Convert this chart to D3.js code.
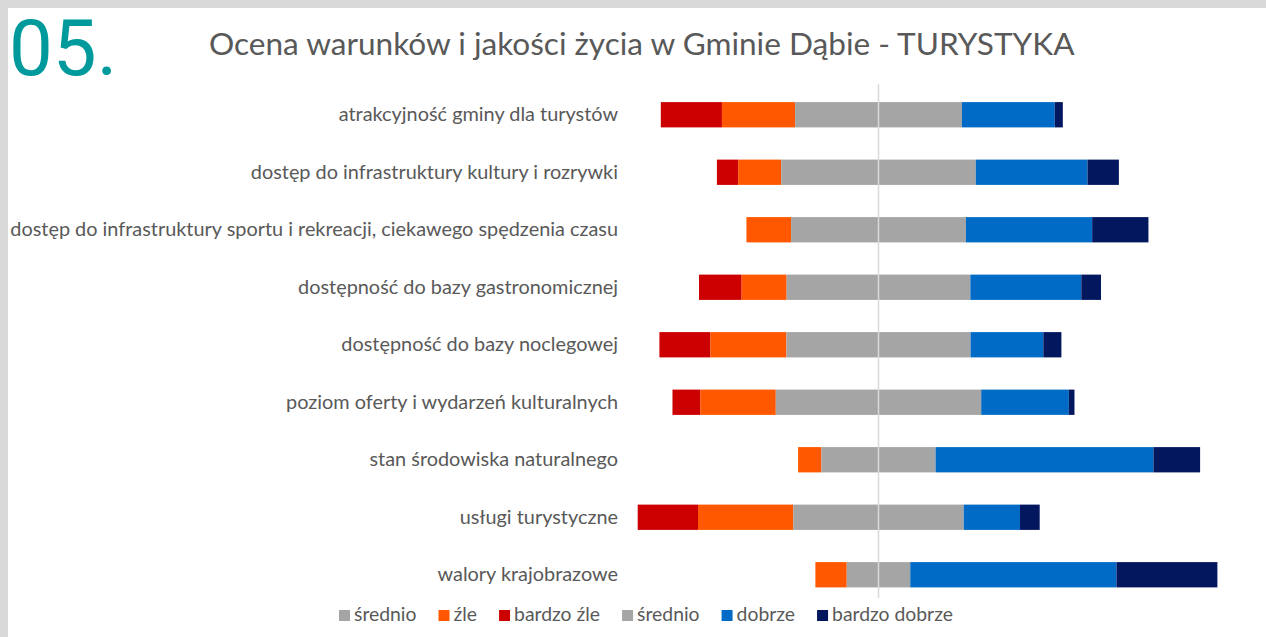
<!DOCTYPE html>
<html><head><meta charset="utf-8">
<script src="https://cdn.jsdelivr.net/npm/d3@7"></script>
<style>html,body{margin:0;padding:0;background:#fff;}</style>
</head><body>
<script>
// ---- data (percent of answers) ----
const categories = [
  "atrakcyjność gminy dla turystów",
  "dostęp do infrastruktury kultury i rozrywki",
  "dostęp do infrastruktury sportu i rekreacji, ciekawego spędzenia czasu",
  "dostępność do bazy gastronomicznej",
  "dostępność do bazy noclegowej",
  "poziom oferty i wydarzeń kulturalnych",
  "stan środowiska naturalnego",
  "usługi turystyczne",
  "walory krajobrazowe"
];
const bardzoZle    = [15.2, 5.3, 0.0, 10.6, 12.7, 6.9, 0.0, 15.0, 0.0];
const zle          = [18.2, 10.7, 11.1, 11.2, 18.9, 18.8, 5.8, 23.7, 7.8];
const srednio      = [41.5, 48.4, 43.5, 45.7, 45.8, 51.1, 28.4, 42.4, 15.8];
const dobrze       = [23.1, 27.8, 31.4, 27.6, 18.1, 21.8, 54.2, 14.0, 51.3];
const bardzoDobrze = [2.0, 7.8, 14.0, 4.9, 4.5, 1.4, 11.6, 4.9, 25.1];
const legendLabels = ["średnio", "źle", "bardzo źle", "średnio", "dobrze", "bardzo dobrze"];
const title = "Ocena warunków i jakości życia w Gminie Dąbie - TURYSTYKA";
const sectionNo = "05.";

const colors = {bz:"#cc0000", z:"#ff5800", s:"#a5a5a5", d:"#006bc6", bd:"#03175f"};
const legendColors = [colors.s, colors.z, colors.bz, colors.s, colors.d, colors.bd];

const W = 1266, H = 637;
const FONT = "Lato, 'Open Sans', sans-serif";
const svg = d3.select("body").append("svg").attr("width", W).attr("height", H)
  .style("display","block");

// frame
svg.append("rect").attr("x",0).attr("y",0).attr("width",W).attr("height",H).attr("fill","#fff");
svg.append("rect").attr("x",0).attr("y",0).attr("width",W).attr("height",8).attr("fill","#d9d9d9");
svg.append("rect").attr("x",0).attr("y",0).attr("width",8).attr("height",H).attr("fill","#d9d9d9");

// section number
const sn = svg.append("text").attr("x", 9).attr("y", 75)
  .attr("font-family","Roboto, sans-serif").attr("font-weight",400)
  .attr("font-size", 78).attr("fill","#00999c").text(sectionNo);

// helper to fit text width
function fit(sel, targetW) {
  const w = sel.node().getComputedTextLength();
  const fs = parseFloat(sel.attr("font-size"));
  sel.attr("font-size", fs * targetW / w);
}

// title
const t = svg.append("text").attr("x", 209).attr("y", 55)
  .attr("font-family", FONT).attr("font-size", 26).attr("fill","#595959").text(title);
fit(t, 866);

// scales
const x = d3.scaleLinear().domain([-60, 85]).range([878.5 - 60*4.02, 878.5 + 85*4.02]);
const y = d3.scaleBand().domain(categories).range([86, 603.5]).paddingInner(0.56).paddingOuter(0.28);

// build segments
const rows = categories.map((c, i) => {
  const vals = [bardzoZle[i], zle[i], srednio[i]/2, srednio[i]/2, dobrze[i], bardzoDobrze[i]];
  const cols = [colors.bz, colors.z, colors.s, colors.s, colors.d, colors.bd];
  const start = -(bardzoZle[i] + zle[i] + srednio[i]/2);
  const cum = d3.cumsum(vals);
  return vals.map((v, k) => ({cat: c, x0: start + cum[k] - v, x1: start + cum[k], color: cols[k], v}));
});

svg.append("g").selectAll("rect").data(rows.flat().filter(d => d.v > 0)).join("rect")
  .attr("x", d => x(d.x0)).attr("width", d => x(d.x1) - x(d.x0))
  .attr("y", d => y(d.cat)).attr("height", y.bandwidth())
  .attr("fill", d => d.color);

// center line
svg.append("line").attr("x1", x(0)).attr("x2", x(0)).attr("y1", 84).attr("y2", 598)
  .attr("stroke","#d9d9d9").attr("stroke-width",1.5);

// category labels
const labels = svg.append("g").selectAll("text").data(categories).join("text")
  .attr("x", 618).attr("y", d => y(d) + y.bandwidth()/2)
  .attr("dy","0.33em").attr("text-anchor","end")
  .attr("font-family", FONT).attr("font-size", 16).attr("fill","#595959").text(d => d);
// size so that the longest label spans the measured width
const longest = labels.filter((d,i) => i === 2);
const lw = longest.node().getComputedTextLength();
labels.attr("font-size", 16 * 608 / lw);

// legend
const lg = svg.append("g");
let lx = 339;
const lfs = 16;
const items = legendLabels.map((l, i) => {
  const g = lg.append("g");
  g.append("rect").attr("x", 0).attr("y", 610).attr("width", 11).attr("height", 11).attr("fill", legendColors[i]);
  const tx = g.append("text").attr("x", 15).attr("y", 621).attr("font-family", FONT)
    .attr("font-size", lfs).attr("fill","#595959").text(l);
  return {g, tx};
});
// fit total legend width (339 .. 953)
const widths = items.map(it => it.tx.node().getComputedTextLength());
const totalText = d3.sum(widths);
const targetText = (953 - 339) - 6*15 - 5*22;
const sc = targetText / totalText;
items.forEach((it, i) => {
  it.tx.attr("font-size", lfs * sc);
  it.g.attr("transform", `translate(${lx},0)`);
  lx += 15 + widths[i]*sc + 22;
});
</script>
</body></html>
